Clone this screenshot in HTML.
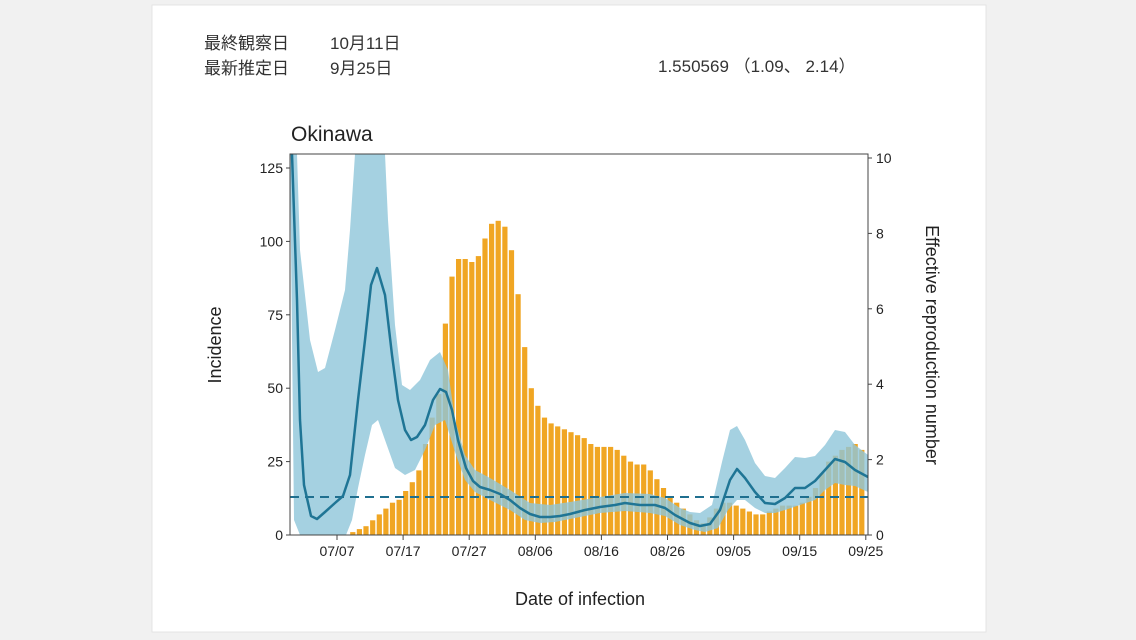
<!DOCTYPE html>
<html><head><meta charset="utf-8"><style>
body{margin:0;width:1136px;height:640px;background:#f1f1f1;overflow:hidden;font-family:"Liberation Sans","Noto Sans CJK JP",sans-serif}
</style></head><body>
<svg id="s" width="1136" height="640" xmlns="http://www.w3.org/2000/svg" style="position:absolute;left:0;top:0">
<rect x="152" y="5" width="834" height="627" fill="#fff" stroke="#e4e4e4"/>
<g font-family="Liberation Sans, Noto Sans CJK JP, sans-serif" fill="#333" font-size="17">
<text x="204" y="49">最終観察日</text><text x="330" y="49">10月11日</text>
<text x="204" y="74">最新推定日</text><text x="330" y="74">9月25日</text>
<text x="658" y="72">1.550569 （1.09、 2.14）</text>
</g>
<text x="291" y="141" font-size="21" fill="#222">Okinawa</text>
<g id="bars" fill="#f0a623"></g>
<path fill="#8fc5da" fill-opacity="0.8" d="M290,154 L297,154 L300,250 L310,340 L318,372 L325,368 L335,330 L345,290 L350,230 L355,154 L385,154 L388,220 L395,325 L402,385 L410,390 L420,380 L430,360 L440,352 L448,370 L455,420 L465,455 L475,470 L490,478 L510,490 L530,503 L550,505 L570,502 L600,497 L625,493 L650,494 L665,498 L680,508 L690,512 L700,513 L712,505 L722,462 L730,430 L737,426 L745,440 L755,463 L765,476 L775,478 L785,468 L795,457 L805,458 L815,456 L825,445 L835,430 L845,432 L855,445 L868,455 L868,492 L855,486 L845,485 L835,483 L825,490 L815,500 L800,505 L785,510 L775,513 L765,513 L755,508 L745,500 L737,500 L728,510 L718,528 L705,532 L695,530 L680,525 L665,516 L650,513 L625,511 L600,513 L575,518 L555,522 L540,523 L525,520 L510,510 L490,500 L475,492 L465,480 L455,452 L445,420 L435,425 L425,450 L415,470 L405,475 L395,468 L385,440 L378,420 L372,425 L365,455 L358,488 L352,520 L346,535 L300,535 L294,520 Z"/>
<line x1="290" y1="497" x2="868" y2="497" stroke="#1f6f8f" stroke-width="2" stroke-dasharray="9,6"/>
<polyline fill="none" stroke="#1f7595" stroke-width="2.5" stroke-linejoin="round" points="292,154 297,300 300,420 304,485 311,516 317,519 325,512 335,503 343,496 350,475 358,400 365,340 371,285 377,268 385,295 392,355 398,400 405,430 411,440 417,437 425,425 433,400 440,389 446,392 452,410 458,440 466,468 473,481 480,487 490,490 500,494 510,500 520,508 530,514 540,517 550,517 560,516 570,514 585,510 600,507 615,505 625,503 640,505 655,505 665,508 675,515 690,523 700,526 710,524 720,510 730,480 737,469 745,478 755,492 765,503 775,504 785,498 795,488 805,488 815,481 825,470 835,459 845,462 855,470 868,477"/>
<rect x="290" y="154" width="578" height="381" fill="none" stroke="#444" stroke-width="1"/>
<g id="ax" font-size="14" fill="#222" font-family="Liberation Sans, sans-serif"></g>
<text x="580" y="605" font-size="18" text-anchor="middle" fill="#222">Date of infection</text>
<text transform="translate(221,345) rotate(-90)" font-size="18" text-anchor="middle" fill="#222">Incidence</text>
<text transform="translate(926,345) rotate(90)" font-size="18" text-anchor="middle" fill="#222">Effective reproduction number</text>
</svg>
<script>
var v=[0,0,0,0,0,0,0,0,0,1,2,3,5,7,9,11,12,15,18,22,31,40,48,72,88,94,94,93,95,101,106,107,105,97,82,64,50,44,40,38,37,36,35,34,33,31,30,30,30,29,27,25,24,24,22,19,16,13,11,9,7,5,4,6,9,11,11,10,9,8,7,7,8,9,10,10,10,11,13,16,21,25,27,29,30,31,29];
var D=6.61;
var g=document.getElementById('bars'),h='';
v.forEach(function(a,i){var x=333+(i-6)*D;if(x<291||x>867||a<=0)return;var hh=a*2.936;h+='<rect x="'+(x-2.6).toFixed(1)+'" y="'+(535-hh).toFixed(1)+'" width="5.2" height="'+hh.toFixed(1)+'"/>';});
g.innerHTML=h;
var ax=document.getElementById('ax'),s='';
[0,25,50,75,100,125].forEach(function(t){var y=535-t*2.936;s+='<line x1="286" x2="290" y1="'+y+'" y2="'+y+'" stroke="#444"/><text x="283" y="'+(y+5)+'" text-anchor="end">'+t+'</text>';});
[0,2,4,6,8,10].forEach(function(t){var y=535-t*37.7;s+='<line x1="868" x2="872" y1="'+y+'" y2="'+y+'" stroke="#444"/><text x="876" y="'+(y+5)+'">'+t+'</text>';});
['07/07','07/17','07/27','08/06','08/16','08/26','09/05','09/15','09/25'].forEach(function(t,i){var x=337+i*10*D;s+='<line x1="'+x+'" x2="'+x+'" y1="535" y2="540" stroke="#444"/><text x="'+x+'" y="556" text-anchor="middle">'+t+'</text>';});
ax.innerHTML=s;
</script>
</body></html>
